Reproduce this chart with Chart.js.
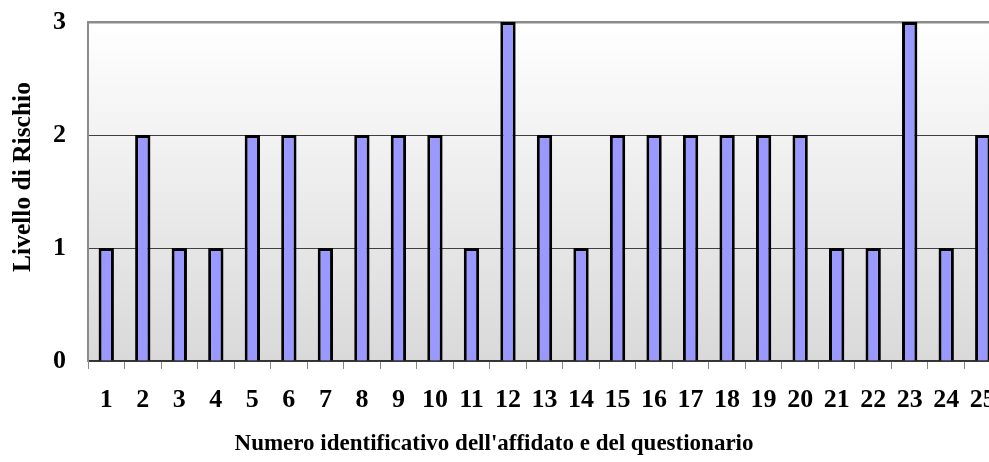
<!DOCTYPE html>
<html>
<head>
<meta charset="utf-8">
<script src="https://cdn.jsdelivr.net/npm/chart.js@4.4.0/dist/chart.umd.min.js"></script>
<style>
  html, body { margin: 0; padding: 0; background: #fff; overflow: hidden; }
  canvas { display: block; }
</style>
</head>
<body>
<canvas id="rischioChart" width="1012" height="462"></canvas>
<script>
document.addEventListener("DOMContentLoaded", function() {
  // Questionari 1..25 e livello di rischio assegnato
  var questionari = ["1", "2", "3", "4", "5", "6", "7", "8", "9", "10", "11", "12", "13",
                     "14", "15", "16", "17", "18", "19", "20", "21", "22", "23", "24", "25"];
  var livelli = [1, 2, 1, 1, 2, 2, 1, 2, 2, 2, 1, 3, 2, 1, 2, 2, 2, 2, 2, 2, 1, 1, 3, 1, 2];
  var yTicks = [0, 1, 2, 3];

  var serif = "'Liberation Serif', 'Times New Roman', serif";
  var xTitle = "Numero identificativo dell'affidato e del questionario";
  var yTitle = "Livello di Rischio";

  // Sfondo sfumato dell'area del grafico
  var plotBackground = {
    id: "plotBackground",
    beforeDraw: function(chart) {
      var a = chart.chartArea, ctx = chart.ctx;
      var g = ctx.createLinearGradient(0, a.top, 0, a.bottom);
      g.addColorStop(0, "#ffffff");
      g.addColorStop(1, "#d9d9d9");
      ctx.save();
      ctx.fillStyle = g;
      ctx.fillRect(a.left, a.top, a.right - a.left, a.bottom - a.top);
      ctx.restore();
    }
  };

  // Titoli degli assi, centrati sulla pagina
  var axisTitles = {
    id: "axisTitles",
    afterDraw: function(chart) {
      var ctx = chart.ctx;
      ctx.save();
      ctx.fillStyle = "#000";
      ctx.textAlign = "center";
      ctx.font = "bold 23px " + serif;
      ctx.textBaseline = "alphabetic";
      ctx.fillText(xTitle, 494, 450);

      ctx.font = "bold 25.5px " + serif;
      ctx.textBaseline = "middle";
      ctx.translate(23, 177);
      ctx.rotate(-Math.PI / 2);
      ctx.fillText(yTitle, 0, 0);
      ctx.restore();
    }
  };

  function noPadding(scale) {
    scale.paddingTop = 0;
    scale.paddingBottom = 0;
    scale.paddingLeft = 0;
    scale.paddingRight = 0;
  }

  var chartCanvas = document.getElementById("rischioChart").getContext("2d");

  var rischioChart = new Chart(chartCanvas, {
    type: "bar",
    data: {
      labels: questionari,
      datasets: [{
        label: "Livello di Rischio",
        data: livelli,
        backgroundColor: "#9999ff",
        borderColor: "#000000",
        borderWidth: 3,
        barPercentage: 0.42,
        categoryPercentage: 1
      }]
    },
    plugins: [plotBackground, axisTitles],
    options: {
      responsive: false,
      animation: false,
      layout: { padding: { top: 22, right: 11, left: 0, bottom: 0 } },
      plugins: {
        legend: { display: false },
        tooltip: { enabled: false }
      },
      scales: {
        x: {
          afterFit: function(scale) { scale.height = 101; noPadding(scale); },
          grid: {
            offset: true,
            drawOnChartArea: false,
            drawTicks: true,
            tickLength: 8,
            color: "#888888"
          },
          border: { display: true, color: "#333333", width: 1.5 },
          ticks: {
            color: "#000",
            padding: 16,
            maxRotation: 0,
            autoSkip: false,
            font: { family: serif, size: 26, weight: "bold" }
          }
        },
        y: {
          min: 0,
          max: 3,
          afterFit: function(scale) { scale.width = 88; noPadding(scale); },
          afterBuildTicks: function(scale) {
            scale.ticks = yTicks.map(function(v) { return { value: v }; });
          },
          grid: {
            drawTicks: false,
            color: function(ctx) {
              return ctx.tick && ctx.tick.value === 3 ? "#8c8c8c" : "#404040";
            },
            lineWidth: function(ctx) {
              return ctx.tick && ctx.tick.value === 3 ? 2.5 : 1;
            }
          },
          border: { display: true, color: "#8c8c8c", width: 2 },
          ticks: {
            color: "#000",
            padding: 22,
            font: { family: serif, size: 26, weight: "bold" }
          }
        }
      }
    }
  });
});
</script>
</body>
</html>
